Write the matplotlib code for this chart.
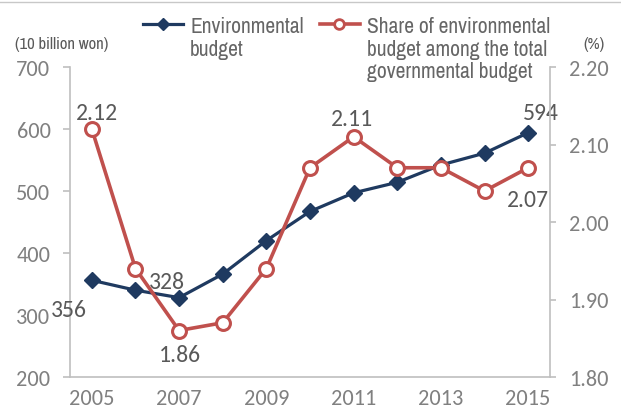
import matplotlib
matplotlib.use("Agg")
import matplotlib.pyplot as plt
from matplotlib.lines import Line2D

years = [2005, 2006, 2007, 2008, 2009, 2010, 2011, 2012, 2013, 2014, 2015]
env_budget = [356, 340, 328, 366, 420, 467, 497, 514, 542, 561, 594]
env_share = [2.12, 1.94, 1.86, 1.87, 1.94, 2.07, 2.11, 2.07, 2.07, 2.04, 2.07]
left_ticks = [200, 300, 400, 500, 600, 700]
right_ticks = [1.80, 1.90, 2.00, 2.10, 2.20]
x_ticks = [2005, 2007, 2009, 2011, 2013, 2015]

NUM_FONT = ["Carlito", "DejaVu Sans"]
NARROW_FONT = ["Archivo Narrow", "Roboto Condensed", "DejaVu Sans"]

BLUE = "#1F3A60"
RED = "#C0504D"
TICK_GREY = "#808080"
LABEL_GREY = "#595959"
LEGEND_GREY = "#666666"
SPINE_GREY = "#BFBFBF"

W, H = 621, 414
fig = plt.figure(figsize=(W / 100, H / 100), dpi=100)
ax = fig.add_axes([70 / W, 1 - 378 / H, 480 / W, 310 / H])
ax2 = ax.twinx()

ax.plot(years, env_budget, color=BLUE, lw=2.3, marker="D", ms=8.5, zorder=3)
ax2.plot(years, env_share, color=RED, lw=2.6, marker="o", ms=10,
         markerfacecolor="white", markeredgecolor=RED, markeredgewidth=2.2, zorder=3)

ax.set_xlim(2004.5, 2015.5)
ax.set_ylim(200, 700)
ax2.set_ylim(1.80, 2.20)
ax.set_yticks(left_ticks)
ax2.set_yticks(right_ticks)
ax2.set_yticklabels([f"{v:.2f}" for v in right_ticks])
ax.set_xticks(x_ticks)

for a in (ax, ax2):
    a.spines["top"].set_visible(False)
    for lab in a.get_yticklabels() + a.get_xticklabels():
        lab.set_fontfamily(NUM_FONT)
        lab.set_fontsize(16)
        lab.set_color(TICK_GREY)
ax.spines["left"].set_color(SPINE_GREY)
ax.spines["bottom"].set_color(SPINE_GREY)
ax.spines["left"].set_linewidth(1.2)
ax.spines["bottom"].set_linewidth(1.2)
ax.spines["right"].set_visible(False)
ax2.spines["left"].set_visible(False)
ax2.spines["bottom"].set_visible(False)
ax2.spines["right"].set_color(SPINE_GREY)
ax2.spines["right"].set_linewidth(1.2)
ax.tick_params(axis="y", length=5, width=1.2, color=SPINE_GREY, pad=9)
ax.tick_params(axis="x", length=0, pad=8)
ax2.tick_params(axis="y", length=4, width=1.2, color=SPINE_GREY, pad=10)

lab_kw = dict(fontfamily=NUM_FONT, fontsize=17, color=LABEL_GREY,
              textcoords="offset points", ha="center", va="baseline")
ax2.annotate(f"{env_share[0]:.2f}", (years[0], env_share[0]), xytext=(3.6, 7.2), **lab_kw)
ax.annotate(f"{env_budget[0]}", (years[0], env_budget[0]), xytext=(-16.6, -26), **lab_kw)
ax.annotate(f"{env_budget[2]}", (years[2], env_budget[2]), xytext=(-8.6, 7.2), **lab_kw)
ax2.annotate(f"{env_share[2]:.2f}", (years[2], env_share[2]), xytext=(0.7, -22.3), **lab_kw)
ax2.annotate(f"{env_share[6]:.2f}", (years[6], env_share[6]), xytext=(-1.4, 8.6), **lab_kw)
ax.annotate(f"{env_budget[10]}", (years[10], env_budget[10]), xytext=(9.4, 10), **lab_kw)
ax2.annotate(f"{env_share[10]:.2f}", (years[10], env_share[10]), xytext=(0, -27.4), **lab_kw)

# unit captions above each value axis
fig.text(15 / W, 1 - 45 / H, "(10 billion won)", fontfamily=NARROW_FONT, fontsize=12,
         color=LABEL_GREY, va="center", ha="left")
fig.text(605 / W, 1 - 45 / H, "(%)", fontfamily=NARROW_FONT, fontsize=12,
         color=LABEL_GREY, va="center", ha="right")

# legend drawn in figure coordinates
ly = 1 - 25 / H
fig.add_artist(Line2D([143 / W, 183 / W], [ly, ly], color=BLUE, lw=2.3,
                      transform=fig.transFigure))
fig.add_artist(Line2D([163 / W], [ly], color=BLUE, marker="D", ms=6,
                      transform=fig.transFigure))
legend_kw = dict(fontfamily=NARROW_FONT, fontsize=15.5, color=LEGEND_GREY, va="top",
                 ha="left", linespacing=1.16, multialignment="left")
fig.text(190 / W, 1 - 17 / H, "Environmental\nbudget", **legend_kw)
fig.add_artist(Line2D([320 / W, 360 / W], [ly, ly], color=RED, lw=2.6,
                      transform=fig.transFigure))
fig.add_artist(Line2D([339 / W], [ly], color=RED, marker="o", ms=7,
                      markerfacecolor="white", markeredgewidth=2.0,
                      transform=fig.transFigure))
fig.text(367 / W, 1 - 17 / H,
         "Share of environmental\nbudget among the total\ngovernmental budget",
         **legend_kw)

# thin rule across the top
fig.add_artist(Line2D([0, 1], [1 - 3 / H, 1 - 3 / H], color="#C8C8C8", lw=1,
                      transform=fig.transFigure))

fig.savefig("out.png", dpi=100)
